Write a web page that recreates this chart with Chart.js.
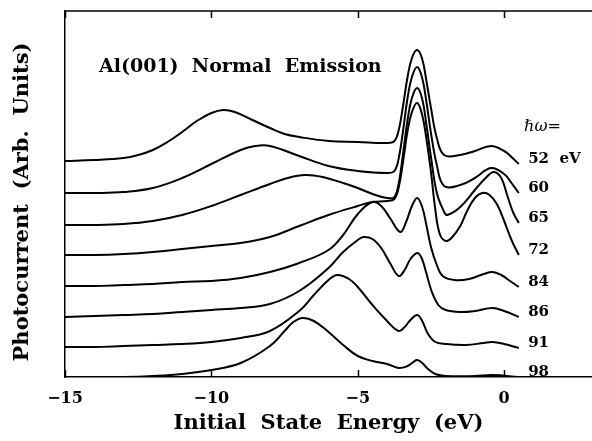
<!DOCTYPE html>
<html>
<head>
<meta charset="utf-8">
<script src="https://cdn.jsdelivr.net/npm/chart.js@4.4.1/dist/chart.umd.min.js"></script>
<style>
  html, body { margin: 0; padding: 0; background: #fff; }
</style>
</head>
<body>
<canvas id="myChart" width="592" height="441"></canvas>
<script>
// photon energies of the spectra, top to bottom
const hv = [52, 60, 65, 72, 84, 86, 91, 98];
const xTicks = [-15, -10, -5, 0];

// initial state energy (eV) and photocurrent (arb. units, spectra offset)
const e52 = [-15, -14, -13, -12.5, -12, -11.5, -11, -10.5, -10, -9.6, -9.2, -8.6, -8, -7.5, -7, -6, -5, -4, -3.75, -3.6, -3.45, -3.3, -3.15, -2.97, -2.8, -2.65, -2.5, -2.3, -2.05, -1.5, -1, -0.45, 0, 0.25, 0.5];
const i52 = [216, 217, 219, 222, 227, 235, 245, 256, 264, 267, 265, 257, 249, 243, 240, 236, 235, 234, 236, 247, 272, 300, 319, 327, 318, 295, 269, 239, 222, 222, 226, 231, 226, 220, 213];

const e60 = [-15, -14, -13, -12, -11, -10, -9, -8.5, -8, -7, -6, -5, -4, -3.75, -3.6, -3.45, -3.3, -3.15, -2.97, -2.8, -2.65, -2.5, -2.3, -2.05, -1.5, -1, -0.45, 0, 0.25, 0.5];
const i60 = [184, 184, 185, 189, 199, 213, 227, 231, 231, 221, 211, 206, 204, 206, 219, 247, 279, 300, 310, 299, 274, 244, 212, 191, 192, 199, 209, 203, 194, 184];

const e65 = [-15, -14, -13, -12, -11, -10, -9, -8, -7.4, -6.8, -6.2, -5.5, -5, -4.5, -4, -3.75, -3.6, -3.45, -3.3, -3.15, -2.97, -2.8, -2.65, -2.5, -2.3, -2.05, -1.94, -1.5, -1, -0.6, -0.35, -0.1, 0.1, 0.3, 0.5];
const i65 = [152, 152, 153, 156, 162, 171, 182, 193, 199, 202, 200, 194, 189, 183, 179, 180, 194, 224, 257, 279, 289, 278, 251, 220, 184, 165, 162, 170, 187, 200, 205, 199, 182, 165, 154];

const e72 = [-15, -14, -13, -12, -11, -10, -9, -8, -7, -6, -5, -4.5, -4, -3.75, -3.6, -3.45, -3.3, -3.15, -2.97, -2.8, -2.65, -2.5, -2.35, -2.2, -2, -1.8, -1.5, -1.25, -1, -0.75, -0.5, -0.25, 0, 0.25, 0.5];
const i72 = [122, 122, 123, 125, 128, 131, 134, 140, 151, 162, 171, 175, 176, 178, 190, 216, 246, 265, 274, 262, 237, 205, 167, 143, 136, 139, 151, 167, 179, 184, 182, 173, 156, 137, 122];

const e84 = [-15, -14, -13, -12, -11, -10, -9, -8, -7, -6, -5.5, -5, -4.5, -4.2, -3.9, -3.55, -3.35, -3.15, -2.97, -2.8, -2.65, -2.5, -2.3, -2.1, -1.7, -1.2, -0.7, -0.4, -0.1, 0.2, 0.5];
const i84 = [91, 91, 92, 93, 95, 96, 99, 105, 114, 127, 142, 163, 175, 171, 159, 145, 155, 171, 179, 170, 151, 130, 112, 101, 97, 98, 103, 105, 102, 96, 90];

const e86 = [-15, -14, -13, -12, -11, -10, -9, -8, -7, -6, -5.5, -5, -4.8, -4.5, -4.2, -3.9, -3.6, -3.4, -3.2, -2.97, -2.82, -2.66, -2.48, -2.25, -2, -1.5, -1, -0.4, 0, 0.5];
const i86 = [60, 61, 62, 63, 65, 67, 69, 73, 86, 109, 125, 137, 140, 138, 129, 114, 101, 107, 118, 124, 119, 104, 86, 72, 67, 65, 66, 69, 66, 60];

const e91 = [-15, -14, -13, -12, -11, -10, -9, -8, -7, -6.5, -6, -5.7, -5.3, -5, -4.5, -4, -3.6, -3.4, -3.2, -2.97, -2.8, -2.6, -2.35, -2, -1.3, -0.7, -0.4, 0, 0.5];
const i91 = [30, 30, 31, 32, 33, 35, 39, 46, 66, 82, 97, 102, 98, 90, 72, 56, 46, 50, 57, 62, 56, 43, 35, 33, 32, 34, 35, 33, 29];

const e98 = [-15, -14, -13, -12, -11, -10, -9, -8, -7.5, -7.2, -6.88, -6.5, -6, -5.5, -5, -4.5, -4, -3.6, -3.3, -3.1, -2.97, -2.8, -2.6, -2.35, -2, -1, -0.4, 0.5];
const i98 = [0, 0, 0, 1, 3, 7, 14, 31, 46, 55, 59, 56, 45, 32, 21, 16, 13, 9, 11, 15, 17, 14, 8, 3, 1, 1, 2, 0];

const energies = [e52, e60, e65, e72, e84, e86, e91, e98];
const currents = [i52, i60, i65, i72, i84, i86, i91, i98];

const serif = '"DejaVu Serif", serif';

const datasets = hv.map((h, k) => ({
    label: h + ' eV',
    data: energies[k].map((e, j) => ({ x: e, y: currents[k][j] })),
    borderColor: '#000',
    borderWidth: 2,
    pointRadius: 0,
    tension: 0.4,
    fill: false
}));

// frame top edge, inward ticks, texts
const decorations = {
    id: 'decorations',
    afterDraw(chart) {
        const { ctx, chartArea: a, scales: { x, y } } = chart;
        ctx.save();
        ctx.strokeStyle = '#000';
        ctx.lineWidth = 1.5;
        ctx.beginPath();
        ctx.moveTo(a.left, a.top);
        ctx.lineTo(a.right, a.top);
        xTicks.forEach(v => {
            const px = Math.round(x.getPixelForValue(v)) + 0.5;
            ctx.moveTo(px, a.top);
            ctx.lineTo(px, a.top + 7);
            ctx.moveTo(px, a.bottom);
            ctx.lineTo(px, a.bottom - 7);
        });
        ctx.stroke();

        ctx.fillStyle = '#000';
        // photon energy labels at the right end of each spectrum
        ctx.font = 'bold 15px ' + serif;
        ctx.textAlign = 'left';
        ctx.textBaseline = 'middle';
        hv.forEach((h, k) => {
            const ys = currents[k];
            const py = y.getPixelForValue(ys[ys.length - 1] + 5);
            ctx.fillText(k === 0 ? h + '  eV' : String(h), x.getPixelForValue(0.82), py);
        });
        ctx.font = 'italic 16px ' + serif;
        ctx.fillText('\u210F\u03C9=', x.getPixelForValue(0.68), y.getPixelForValue(i52[i52.length - 1] + 37));

        ctx.font = 'bold 19px ' + serif;
        ctx.textBaseline = 'alphabetic';
        ctx.fillText('Al(001)  Normal  Emission', 99, 72);

        // axis titles
        ctx.font = 'bold 21px ' + serif;
        ctx.textAlign = 'center';
        ctx.textBaseline = 'middle';
        ctx.fillText('Initial  State  Energy  (eV)', (a.left + a.right) / 2, 424);
        ctx.translate(23, 202);
        ctx.rotate(-Math.PI / 2);
        ctx.fillText('Photocurrent  (Arb.  Units)', 0, 0);
        ctx.restore();
    }
};

new Chart(document.getElementById('myChart'), {
    type: 'line',
    data: { datasets },
    options: {
        responsive: false,
        animation: false,
        devicePixelRatio: 1,
        layout: { padding: { top: 11, left: 0, right: 0, bottom: 0 } },
        plugins: { legend: { display: false }, tooltip: { enabled: false } },
        scales: {
            x: {
                type: 'linear',
                min: -15,
                max: 3,
                afterBuildTicks: s => { s.ticks = xTicks.map(v => ({ value: v })); },
                afterFit: s => { s.height = 64; },
                grid: { display: false, drawTicks: false },
                border: { display: true, color: '#000', width: 1.5 },
                ticks: {
                    color: '#000',
                    padding: 12,
                    maxRotation: 0,
                    font: { family: serif, size: 16, weight: 'bold' },
                    callback: v => String(v).replace('-', '\u2212')
                }
            },
            y: {
                min: 0,
                max: 366,
                afterFit: s => { s.width = 65; },
                grid: { display: false, drawTicks: false },
                border: { display: true, color: '#000', width: 1.5 },
                ticks: { display: false }
            }
        }
    },
    plugins: [decorations]
});
</script>
</body>
</html>
